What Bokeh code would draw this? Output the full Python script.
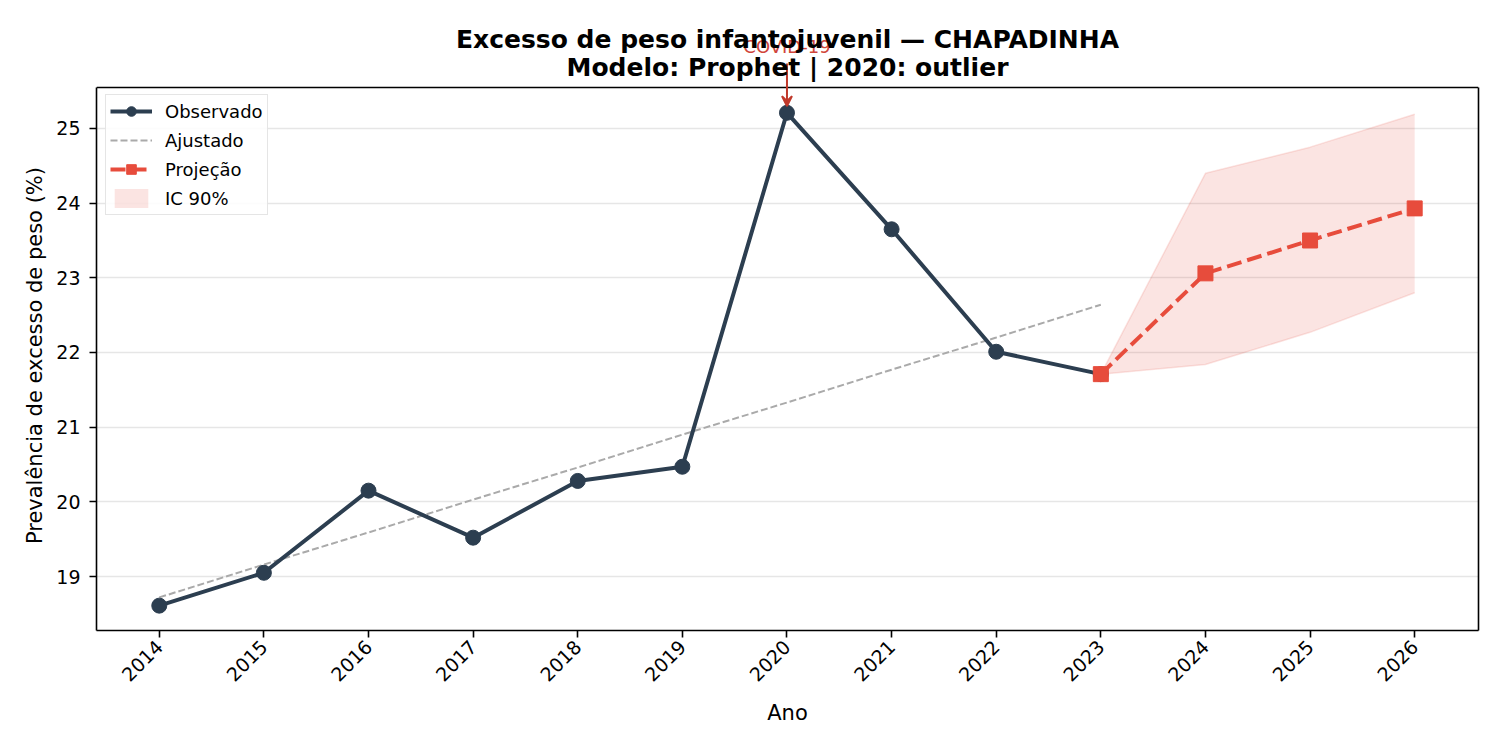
import math
from bokeh.plotting import figure
from bokeh.models import (Range1d, FixedTicker, Legend, LegendItem, Label, Arrow,
                          VeeHead, Span, LinearAxis)
from bokeh.embed import file_html
from bokeh.resources import INLINE

# ---- data ----
years_obs = [2014, 2015, 2016, 2017, 2018, 2019, 2020, 2021, 2022, 2023]
observed = [18.61, 19.05, 20.15, 19.52, 20.28, 20.47, 25.21, 23.65, 22.01, 21.71]
fitted = [18.72, 19.16, 19.59, 20.03, 20.46, 20.90, 21.33, 21.77, 22.20, 22.64]
years_proj = [2023, 2024, 2025, 2026]
projection = [21.71, 23.06, 23.50, 23.93]
ci_lower = [21.71, 21.84, 22.27, 22.80]
ci_upper = [21.71, 24.40, 24.75, 25.19]
x_ticks = list(range(2014, 2027))
y_ticks = [19, 20, 21, 22, 23, 24, 25]
outlier_year = 2020
outlier_value = 25.21
title_1 = "Excesso de peso infantojuvenil — CHAPADINHA"
title_2 = "Modelo: Prophet | 2020: outlier"
y_label = "Prevalência de excesso de peso (%)"

FONT = "DejaVu Sans"
C_OBS = "#2c3e50"
C_PROJ = "#e74c3c"
C_ANN = "#c0392b"

X0, X1 = 2013.4, 2026.61          # axes box (x)
Y0, Y1 = 18.277, 25.549           # axes box (y)
Y_TOP = 26.714                    # canvas top, room for the title block

p = figure(width=1500, height=750, output_backend="svg", toolbar_location=None,
           x_range=Range1d(X0, X1), y_range=Range1d(Y0, Y_TOP),
           min_border_left=96, min_border_right=22, min_border_top=0,
           min_border_bottom=120)

p.background_fill_color = "white"
p.border_fill_color = "white"
p.outline_line_color = None

# grid
p.xgrid.visible = False
p.ygrid.ticker = FixedTicker(ticks=y_ticks)
p.ygrid.grid_line_color = "#e6e6e6"
p.ygrid.grid_line_width = 1.6

# axes
p.xaxis.ticker = FixedTicker(ticks=x_ticks)
p.yaxis.ticker = FixedTicker(ticks=y_ticks)
p.yaxis.bounds = (Y0, Y1)
for ax in (p.xaxis[0], p.yaxis[0]):
    ax.axis_line_color = "black"
    ax.axis_line_width = 1.6
    ax.major_tick_line_color = "black"
    ax.major_tick_line_width = 1.6
    ax.major_tick_out = 7
    ax.major_tick_in = 0
    ax.minor_tick_line_color = None
    ax.major_label_text_font = FONT
    ax.major_label_text_font_size = "19px"
    ax.major_label_text_color = "black"
    ax.axis_label_text_font = FONT
    ax.axis_label_text_font_size = "21px"
    ax.axis_label_text_font_style = "normal"
    ax.axis_label_text_color = "black"
p.xaxis.axis_label = "Ano"
# trailing no-break spaces keep the label centred on the axes box, not the taller canvas frame
p.yaxis.axis_label = y_label + "\u00a0" * 12
p.xaxis.major_label_orientation = math.pi / 4
p.xaxis.major_label_standoff = 6
p.yaxis.major_label_standoff = 9
p.xaxis.axis_label_standoff = 10
p.yaxis.axis_label_standoff = 6

# right and top edges of the axes box
right_ax = LinearAxis(bounds=(Y0, Y1), ticker=FixedTicker(ticks=[]),
                      major_label_text_font_size="0px", axis_line_color="black",
                      axis_line_width=1.6, major_tick_line_color=None,
                      minor_tick_line_color=None)
p.add_layout(right_ax, "right")
p.add_layout(Span(location=Y1, dimension="width", line_color="black", line_width=1.6))

# confidence band
band = p.varea(x=years_proj, y1=ci_lower, y2=ci_upper, fill_color=C_PROJ, fill_alpha=0.15)
p.line(years_proj, ci_upper, line_color=C_PROJ, line_alpha=0.15, line_width=1.5)
p.line(years_proj, ci_lower, line_color=C_PROJ, line_alpha=0.15, line_width=1.5)

# fitted
fit_line = p.line(years_obs, fitted, line_color="#aaaaaa", line_width=2, line_dash="7 3")

# observed
obs_line = p.line(years_obs, observed, line_color=C_OBS, line_width=4)
obs_pts = p.scatter(years_obs, observed, marker="circle", size=15, fill_color=C_OBS,
                    line_color=C_OBS)

# projection
proj_line = p.line(years_proj, projection, line_color=C_PROJ, line_width=4, line_dash="15 6")
proj_pts = p.scatter(years_proj, projection, marker="square", size=15, fill_color=C_PROJ,
                     line_color=C_PROJ)

# annotation
p.add_layout(Label(x=outlier_year, y=26.098, text="COVID-19", text_align="center",
                   text_baseline="middle", text_font=FONT, text_font_size="18px",
                   text_color="#d0453a"))
p.add_layout(Arrow(end=VeeHead(size=10, line_color=C_ANN, fill_color=C_ANN, line_width=2),
                   x_start=outlier_year, y_start=25.87, x_end=outlier_year,
                   y_end=outlier_value + 0.09, line_color=C_ANN, line_width=2))

# title block
xc = (X0 + X1) / 2
p.add_layout(Label(x=xc, y=26.192, text=title_1, text_align="center",
                   text_baseline="middle", text_font=FONT, text_font_size="25px",
                   text_font_style="bold", text_color="black"))
p.add_layout(Label(x=xc, y=25.817, text=title_2, text_align="center",
                   text_baseline="middle", text_font=FONT, text_font_size="25px",
                   text_font_style="bold", text_color="black"))

legend = Legend(items=[
    LegendItem(label="Observado", renderers=[obs_line, obs_pts]),
    LegendItem(label="Ajustado", renderers=[fit_line]),
    LegendItem(label="Projeção", renderers=[proj_line, proj_pts]),
    LegendItem(label="IC 90%", renderers=[band]),
], location=(9, 415))
legend.padding = 4
legend.spacing = 5
legend.glyph_width = 42
legend.glyph_height = 24
legend.label_height = 20
legend.label_standoff = 13
legend.label_text_font = FONT
legend.label_text_font_size = "18px"
legend.label_text_color = "black"
legend.border_line_color = "#cccccc"
legend.border_line_width = 1.5
legend.background_fill_alpha = 0.85
p.add_layout(legend)

open("out.html", "w").write(file_html(p, INLINE))
